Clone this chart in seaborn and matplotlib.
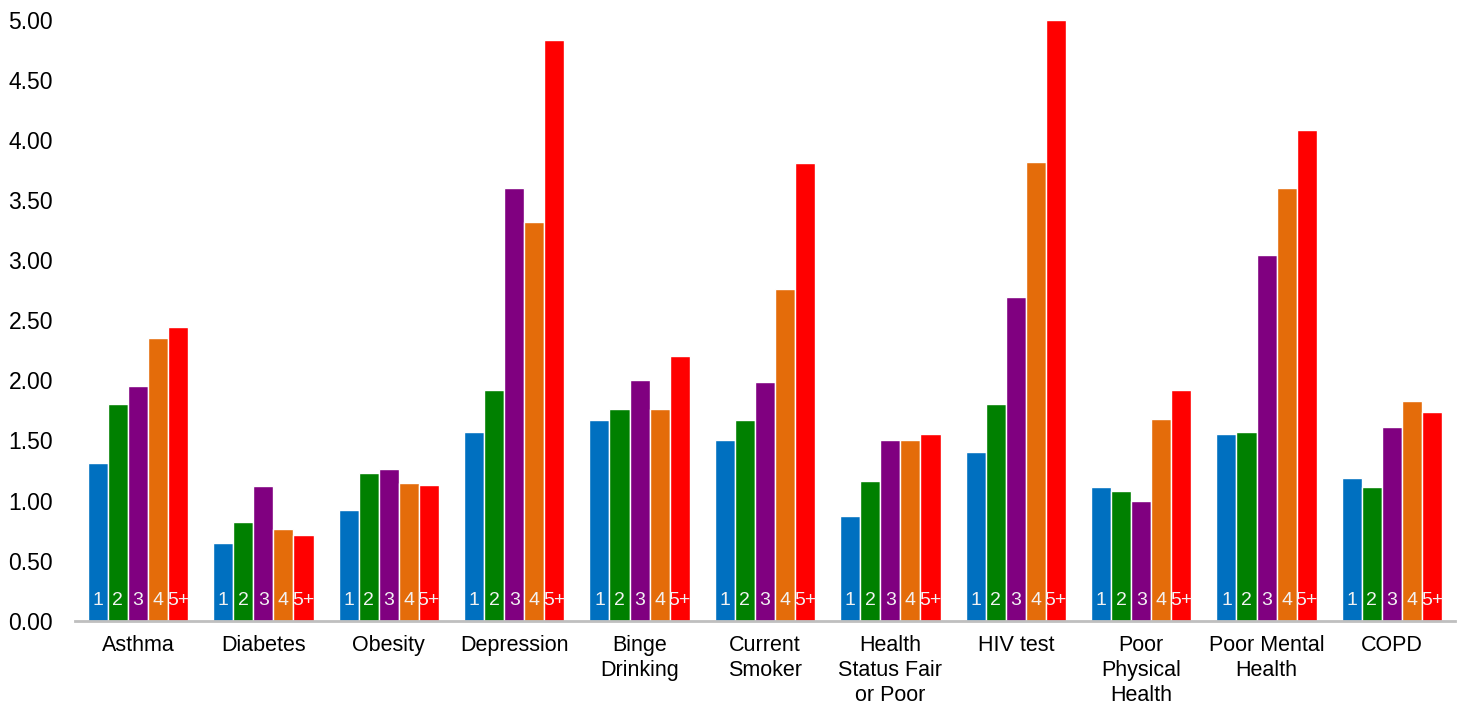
import matplotlib
matplotlib.use("Agg")
import matplotlib.pyplot as plt
import seaborn as sns
import pandas as pd

measures = ["Asthma", "Diabetes", "Obesity", "Depression", "Binge\nDrinking",
            "Current\nSmoker", "Health\nStatus Fair\nor Poor", "HIV test",
            "Poor\nPhysical\nHealth", "Poor Mental\nHealth", "COPD"]
groups = ["1", "2", "3", "4", "5+"]
colors = ["#0070C0", "#008000", "#800080", "#E46C0A", "#FF0000"]

g1 = [1.31, 0.65, 0.92, 1.57, 1.67, 1.50, 0.87, 1.40, 1.11, 1.55, 1.19]
g2 = [1.80, 0.82, 1.23, 1.92, 1.76, 1.67, 1.16, 1.80, 1.08, 1.57, 1.11]
g3 = [1.95, 1.12, 1.26, 3.60, 2.00, 1.99, 1.50, 2.69, 1.00, 3.04, 1.61]
g4 = [2.35, 0.76, 1.15, 3.32, 1.76, 2.76, 1.50, 3.82, 1.68, 3.60, 1.83]
g5 = [2.44, 0.71, 1.13, 4.83, 2.20, 3.81, 1.55, 5.00, 1.92, 4.08, 1.74]

rows = []
for grp, vals in zip(groups, [g1, g2, g3, g4, g5]):
    for m, v in zip(measures, vals):
        rows.append({"measure": m, "group": grp, "value": v})
df = pd.DataFrame(rows)

sns.set_style("white")
plt.rcParams["font.family"] = ["Liberation Sans", "DejaVu Sans"]

fig = plt.figure(figsize=(14.62, 7.07), dpi=100)
ax = fig.add_axes([0.0515, 0.122, 0.9435, 0.850])
sns.barplot(data=df, x="measure", y="value", hue="group", order=measures,
            hue_order=groups, palette=colors, width=0.8, edgecolor="white",
            linewidth=1, saturation=1, legend=False, ax=ax)

# group number labels inside the bottom of each bar
for cont, grp in zip(ax.containers, groups):
    for bar in cont:
        ax.text(bar.get_x() + bar.get_width() / 2, 0.17, grp,
                color="#F2F2F2", fontsize=14, ha="center", va="center")

ax.set_ylim(0, 5)
ax.set_yticks([i * 0.5 for i in range(11)])
ax.set_yticklabels([f"{i * 0.5:.2f}" for i in range(11)], fontsize=16.5)
ax.set_xlabel("")
ax.set_ylabel("")
ax.tick_params(axis="x", labelsize=15.5, length=0, pad=10, labelcolor="black")
for lbl in ax.get_xticklabels():
    lbl.set_linespacing(1.25)
ax.tick_params(axis="y", length=0, pad=16, labelcolor="black")
for s in ["top", "right", "left"]:
    ax.spines[s].set_visible(False)
ax.spines["bottom"].set_color("#BFBFBF")
ax.spines["bottom"].set_linewidth(2)
ax.grid(False)

fig.savefig("out.png", dpi=100)
